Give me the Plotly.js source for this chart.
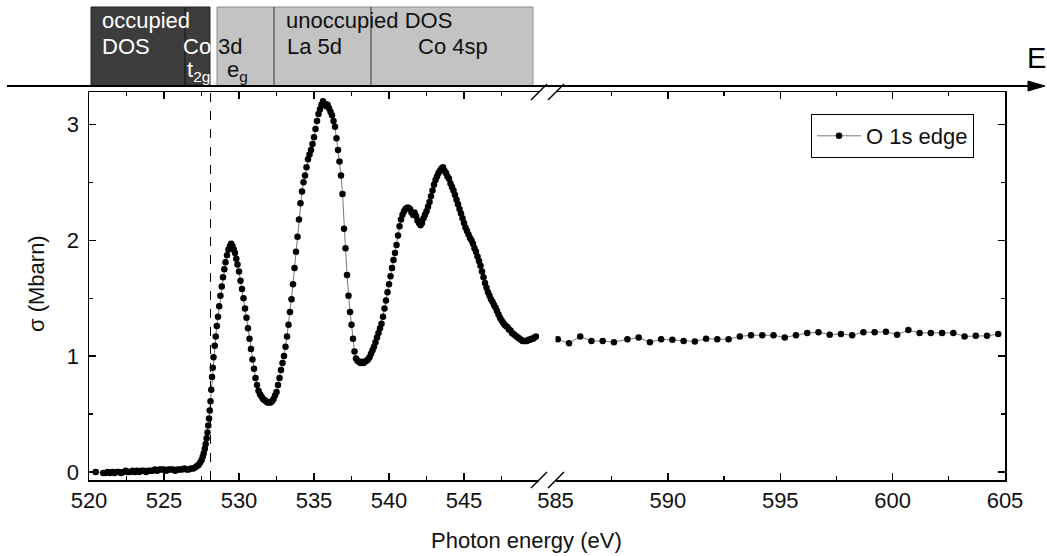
<!DOCTYPE html>
<html>
<head>
<meta charset="utf-8">
<script src="https://cdn.plot.ly/plotly-3.0.1.min.js"></script>
<style>html,body{margin:0;padding:0;background:#fff;}#chart{width:1047px;height:556px;}</style>
</head>
<body>
<div id="chart"></div>
<script>
// ---- data ----
const energyLow = [520.45,520.95,521.1,521.25,521.4,521.55,521.7,521.85,522.0,522.15,522.3,522.45,522.6,522.75,522.9,523.05,523.2,523.35,523.5,523.65,523.8,523.95,524.1,524.25,524.4,524.55,524.7,524.85,525.0,525.15,525.3,525.45,525.6,525.75,525.9,526.05,526.2,526.35,526.5,526.65,526.8,526.95,527.1,527.2,527.3,527.4,527.5,527.58,527.65,527.72,527.78,527.84,527.9,527.95,528.0,528.05,528.1,528.15,528.2,528.25,528.3,528.38,528.45,528.52,528.6,528.68,528.76,528.85,528.93,529.02,529.1,529.2,529.3,529.4,529.48,529.56,529.65,529.73,529.82,529.9,530.0,530.1,530.2,530.3,530.4,530.5,530.6,530.7,530.8,530.9,531.0,531.1,531.2,531.3,531.4,531.5,531.6,531.7,531.8,531.9,532.0,532.1,532.2,532.3,532.4,532.5,532.6,532.7,532.8,532.9,533.0,533.1,533.2,533.3,533.4,533.5,533.6,533.7,533.8,533.9,534.0,534.1,534.2,534.3,534.4,534.5,534.6,534.7,534.8,534.9,535.0,535.1,535.2,535.3,535.4,535.5,535.6,535.7,535.8,535.9,536.0,536.1,536.2,536.3,536.4,536.5,536.6,536.7,536.8,536.9,537.0,537.1,537.2,537.3,537.4,537.5,537.6,537.7,537.8,537.9,538.0,538.1,538.2,538.3,538.4,538.5,538.6,538.7,538.8,538.9,539.0,539.1,539.2,539.3,539.4,539.5,539.6,539.7,539.8,539.9,540.0,540.1,540.2,540.3,540.4,540.5,540.6,540.7,540.8,540.9,541.0,541.1,541.2,541.3,541.4,541.5,541.6,541.7,541.8,541.9,542.0,542.1,542.2,542.3,542.4,542.5,542.6,542.7,542.8,542.9,543.0,543.1,543.2,543.3,543.4,543.5,543.6,543.7,543.8,543.9,544.0,544.1,544.2,544.3,544.4,544.5,544.6,544.7,544.8,544.9,545.0,545.1,545.2,545.3,545.4,545.5,545.6,545.7,545.8,545.9,546.0,546.1,546.2,546.3,546.4,546.5,546.6,546.7,546.8,546.9,547.0,547.1,547.2,547.3,547.4,547.5,547.6,547.7,547.8,547.9,548.0,548.1,548.2,548.3,548.4,548.5,548.6,548.7,548.8,548.9,549.0,549.1,549.2,549.3,549.4,549.5,549.6,549.7,549.8];
const sigmaLow = [0.00,-0.01,-0.01,0.00,-0.01,0.00,-0.01,0.00,0.00,-0.01,0.00,0.01,0.00,0.00,0.01,0.00,0.01,0.00,0.01,0.01,0.00,0.01,0.01,0.01,0.02,0.01,0.02,0.02,0.02,0.01,0.02,0.02,0.02,0.01,0.02,0.02,0.02,0.03,0.02,0.02,0.03,0.03,0.04,0.05,0.06,0.08,0.10,0.13,0.16,0.20,0.24,0.29,0.34,0.40,0.46,0.53,0.61,0.71,0.82,0.90,0.99,1.09,1.17,1.26,1.34,1.43,1.52,1.60,1.68,1.75,1.81,1.87,1.92,1.95,1.97,1.95,1.92,1.89,1.84,1.79,1.73,1.65,1.58,1.50,1.41,1.33,1.24,1.15,1.06,0.97,0.89,0.81,0.75,0.70,0.67,0.65,0.63,0.62,0.61,0.60,0.60,0.60,0.61,0.63,0.66,0.69,0.75,0.81,0.88,0.94,1.00,1.08,1.17,1.27,1.38,1.49,1.62,1.76,1.90,2.03,2.18,2.32,2.42,2.50,2.56,2.63,2.70,2.74,2.78,2.83,2.89,2.96,3.03,3.09,3.13,3.17,3.20,3.18,3.16,3.17,3.14,3.11,3.08,3.03,2.98,2.88,2.78,2.68,2.56,2.40,2.10,1.93,1.70,1.52,1.38,1.27,1.15,1.04,0.98,0.96,0.95,0.94,0.95,0.94,0.95,0.96,0.97,0.99,1.02,1.05,1.08,1.12,1.16,1.20,1.24,1.28,1.34,1.41,1.48,1.55,1.62,1.69,1.76,1.83,1.89,1.96,2.04,2.12,2.18,2.22,2.25,2.27,2.28,2.28,2.27,2.24,2.22,2.24,2.21,2.17,2.15,2.13,2.15,2.19,2.22,2.25,2.29,2.33,2.38,2.43,2.48,2.52,2.55,2.58,2.60,2.62,2.63,2.60,2.58,2.55,2.53,2.49,2.46,2.43,2.39,2.35,2.31,2.27,2.23,2.19,2.15,2.11,2.08,2.05,2.02,2.00,1.97,1.93,1.90,1.86,1.82,1.78,1.73,1.68,1.63,1.59,1.55,1.52,1.49,1.47,1.44,1.42,1.39,1.36,1.33,1.31,1.29,1.27,1.26,1.25,1.23,1.22,1.20,1.19,1.18,1.17,1.16,1.15,1.14,1.13,1.13,1.13,1.13,1.14,1.14,1.15,1.15,1.16,1.17];
const energyHigh = [585.1,585.6,586.1,586.6,587.1,587.6,588.2,588.7,589.2,589.7,590.2,590.7,591.2,591.7,592.2,592.7,593.2,593.7,594.2,594.7,595.2,595.7,596.2,596.7,597.2,597.7,598.2,598.7,599.2,599.7,600.2,600.7,601.2,601.7,602.2,602.7,603.2,603.7,604.2,604.7];
const sigmaHigh = [1.145,1.11,1.17,1.13,1.13,1.12,1.145,1.16,1.12,1.145,1.14,1.13,1.125,1.15,1.145,1.145,1.17,1.18,1.18,1.18,1.16,1.18,1.20,1.205,1.185,1.19,1.18,1.205,1.205,1.21,1.185,1.225,1.20,1.20,1.20,1.20,1.17,1.175,1.175,1.19];
const ticksLow = [520,525,530,535,540,545];
const minorLow = [522.5,527.5,532.5,537.5,542.5,547.5];
const ticksHigh = [585,590,595,600,605];
const minorHigh = [587.5,592.5,597.5,602.5];
const ticksY = [0,1,2,3];
const minorY = [0.5,1.5,2.5];
const seriesName = 'O 1s edge';
const fermiEnergy = 528.1;
const xTitle = 'Photon energy (eV)';
const yTitle = 'σ (Mbarn)';

// ---- geometry helpers (pixel -> paper) ----
const W = 1047, H = 556, L = 89, R = 42, T = 92, B = 76;
const PW = W - L - R, PH = H - T - B;
const px = x => (x - L) / PW;
const py = y => (H - B - y) / PH;

const FONT = 'Liberation Sans, Arial, Helvetica, sans-serif';
const fs = 22;

const markerStyle = {color: '#000', size: 6.5};
const lineStyle = {color: '#555', width: 0.8};

const traces = [
  {x: energyLow, y: sigmaLow, xaxis: 'x', yaxis: 'y', type: 'scatter', mode: 'lines+markers',
   name: seriesName, marker: markerStyle, line: lineStyle},
  {x: energyHigh, y: sigmaHigh, xaxis: 'x2', yaxis: 'y2', type: 'scatter', mode: 'lines+markers',
   name: seriesName, showlegend: false, marker: markerStyle, line: lineStyle}
];

const axisCommon = {
  showgrid: false, zeroline: false, showline: true, linecolor: '#000', linewidth: 1.5,
  ticks: 'inside', ticklen: 7, tickwidth: 1.3, tickcolor: '#000',
  tickfont: {family: FONT, size: fs, color: '#111'}
};

const shapes = [];
// break marks
[[539, T], [556, T], [539, H - B], [556, H - B]].forEach(([cx, cy]) => {
  shapes.push({type: 'line', xref: 'paper', yref: 'paper', x0: px(cx - 8), y0: py(cy + 8), x1: px(cx + 8), y1: py(cy - 8),
    line: {color: '#000', width: 1.5}});
});
// fermi level dashed line
shapes.push({type: 'line', xref: 'x', yref: 'paper', x0: fermiEnergy, x1: fermiEnergy, y0: 0, y1: py(86),
  line: {color: '#000', width: 1, dash: 'dash'}});
// header boxes
shapes.push({type: 'rect', xref: 'paper', yref: 'paper', x0: px(91), x1: px(210), y0: py(86), y1: py(7),
  fillcolor: '#3c3c3c', line: {color: '#222', width: 1}});
shapes.push({type: 'line', xref: 'paper', yref: 'paper', x0: px(185), x1: px(185), y0: py(86), y1: py(7),
  line: {color: '#111', width: 1}});
shapes.push({type: 'rect', xref: 'paper', yref: 'paper', x0: px(217), x1: px(533), y0: py(86), y1: py(7),
  fillcolor: '#c3c3c3', line: {color: '#8c8c8c', width: 1}});
[274, 371].forEach(xx => shapes.push({type: 'line', xref: 'paper', yref: 'paper', x0: px(xx), x1: px(xx), y0: py(86), y1: py(7),
  line: {color: '#333', width: 1}}));
// energy arrow
shapes.push({type: 'line', xref: 'paper', yref: 'paper', x0: px(7), x1: px(1032), y0: py(86), y1: py(86),
  line: {color: '#000', width: 2}});
shapes.push({type: 'path', xref: 'paper', yref: 'paper',
  path: `M ${px(1028)} ${py(81)} L ${px(1045)} ${py(86)} L ${px(1028)} ${py(91)} Z`,
  fillcolor: '#000', line: {color: '#000', width: 1}});

function txt(text, x, y, color, size, extra) {
  return Object.assign({text: text, xref: 'paper', yref: 'paper', x: px(x), y: py(y), xanchor: 'left', yanchor: 'middle',
    showarrow: false, font: {family: FONT, size: size || fs, color: color}}, extra || {});
}
const annotations = [
  txt('occupied', 100, 20, '#fff'),
  txt('DOS', 100, 47, '#fff'),
  txt('Co', 181, 47, '#fff'),
  txt('t<sub>2g</sub>', 185, 71, '#fff'),
  txt('3d', 216, 47, '#111'),
  txt('e<sub>g</sub>', 225, 71, '#111'),
  txt('unoccupied DOS', 284, 20, '#111'),
  txt('La 5d', 285, 47, '#111'),
  txt('Co 4sp', 416, 47, '#111'),
  txt('E', 1025, 58, '#000', 29),
  txt(xTitle, 526, 540, '#111', fs, {xanchor: 'center'}),
  txt(yTitle, 36, 284, '#111', fs, {xanchor: 'center', textangle: -90})
];

const layout = {
  width: W, height: H,
  margin: {l: L, r: R, t: T, b: B},
  paper_bgcolor: '#fff', plot_bgcolor: '#fff',
  font: {family: FONT, size: fs, color: '#111'},
  showlegend: true,
  legend: {x: px(811), y: py(114), xanchor: 'left', yanchor: 'top', bgcolor: '#fff', itemwidth: 44,
    bordercolor: '#000', borderwidth: 1, font: {family: FONT, size: fs, color: '#111'}},
  xaxis: Object.assign({}, axisCommon, {domain: [0, px(539)], range: [520, 550], anchor: 'y',
    tickmode: 'array', tickvals: ticksLow, ticktext: ticksLow.map(String), mirror: 'ticks',
    minor: {tickmode: 'array', tickvals: minorLow, ticks: 'inside', ticklen: 4, tickcolor: '#000'}}),
  xaxis2: Object.assign({}, axisCommon, {domain: [px(555.5), 1], range: [585, 605], anchor: 'y2',
    tickmode: 'array', tickvals: ticksHigh, ticktext: ticksHigh.map(String), mirror: 'ticks',
    minor: {tickmode: 'array', tickvals: minorHigh, ticks: 'inside', ticklen: 4, tickcolor: '#000'}}),
  yaxis: Object.assign({}, axisCommon, {range: [-0.07, 3.28], anchor: 'x',
    tickmode: 'array', tickvals: ticksY, ticktext: ticksY.map(String), ticklabelstandoff: 4,
    minor: {tickmode: 'array', tickvals: minorY, ticks: 'inside', ticklen: 4, tickcolor: '#000'}}),
  yaxis2: Object.assign({}, axisCommon, {matches: 'y', range: [-0.07, 3.28], anchor: 'x2', side: 'right',
    showticklabels: false, tickmode: 'array', tickvals: ticksY,
    minor: {tickmode: 'array', tickvals: minorY, ticks: 'inside', ticklen: 4, tickcolor: '#000'}}),
  shapes: shapes,
  annotations: annotations
};

Plotly.newPlot('chart', traces, layout, {displayModeBar: false, staticPlot: true});
</script>
</body>
</html>
